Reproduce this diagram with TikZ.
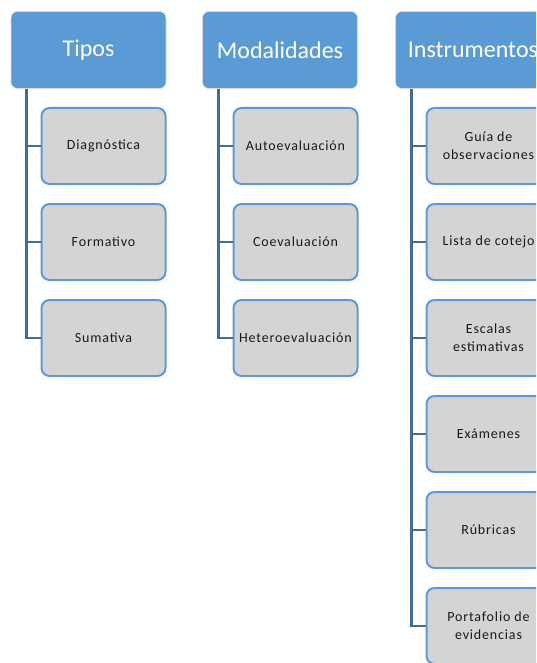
\documentclass[tikz,border=0pt]{standalone}
\usepackage{fontspec}
\setmainfont{Carlito}
\newfontfamily\boxfont{Carlito}[LetterSpace=6]
\usepackage{tikz}
\definecolor{headblue}{RGB}{91,155,213}
\definecolor{edgeblue}{RGB}{65,110,150}
\definecolor{boxgray}{RGB}{212,212,212}
\tikzset{head/.style={draw=black!15, thin, fill=headblue, rounded corners=5, minimum width=116.25pt, minimum height=57.75pt, text=white, font=\fontsize{18}{20}\selectfont},
         item/.style={draw=headblue, line width=1.5pt, fill=boxgray, rounded corners=6, minimum width=93pt, minimum height=57pt, align=center, text=black!90, font=\boxfont\fontsize{10.5}{13.5}\selectfont},
         link/.style={edgeblue, line width=2.2pt}}

\begin{document}
\begin{tikzpicture}[x=0.75pt, y=-0.75pt]
                \useasboundingbox (0,0) rectangle (536,663);
                \clip (0,0) rectangle (536,663);

                \node[head] (tipos) at (88.5, 50) {Tipos};
                \node[head] (modal) at (280, 50) {Modalidades};
                \node[head] (instr) at (473, 50) {Instrumentos};

                \node[item] (t1) at (103.5, 146) {Diagnóstica};
                \node[item] (t2) at (103.5, 242) {Formativo};
                \node[item] (t3) at (103.5, 338) {Sumativa};

                \draw[link] ([xshift=12pt]tipos.south west) |- (t1.west);
                \draw[link] ([xshift=12pt]tipos.south west) |- (t2.west);
                \draw[link] ([xshift=12pt]tipos.south west) |- (t3.west);

                \node[item] (m1) at (295.5, 146) {Autoevaluación};
                \node[item] (m2) at (295.5, 242) {Coevaluación};
                \node[item] (m3) at (295.5, 338) {Heteroevaluación};

                \draw[link] ([xshift=12pt]modal.south west) |- (m1.west);
                \draw[link] ([xshift=12pt]modal.south west) |- (m2.west);
                \draw[link] ([xshift=12pt]modal.south west) |- (m3.west);

                \node[item] (i1) at (488.5, 146) {Guía de\\observaciones};
                \node[item] (i2) at (488.5, 242) {Lista de cotejo};
                \node[item] (i3) at (488.5, 338) {Escalas\\estimativas};
                \node[item] (i4) at (488.5, 434) {Exámenes};
                \node[item] (i5) at (488.5, 530) {Rúbricas};
                \node[item] (i6) at (488.5, 626) {Portafolio de\\evidencias};

                \draw[link] ([xshift=12pt]instr.south west) |- (i1.west);
                \draw[link] ([xshift=12pt]instr.south west) |- (i2.west);
                \draw[link] ([xshift=12pt]instr.south west) |- (i3.west);
                \draw[link] ([xshift=12pt]instr.south west) |- (i4.west);
                \draw[link] ([xshift=12pt]instr.south west) |- (i5.west);
                \draw[link] ([xshift=12pt]instr.south west) |- (i6.west);
\end{tikzpicture}
\end{document}
